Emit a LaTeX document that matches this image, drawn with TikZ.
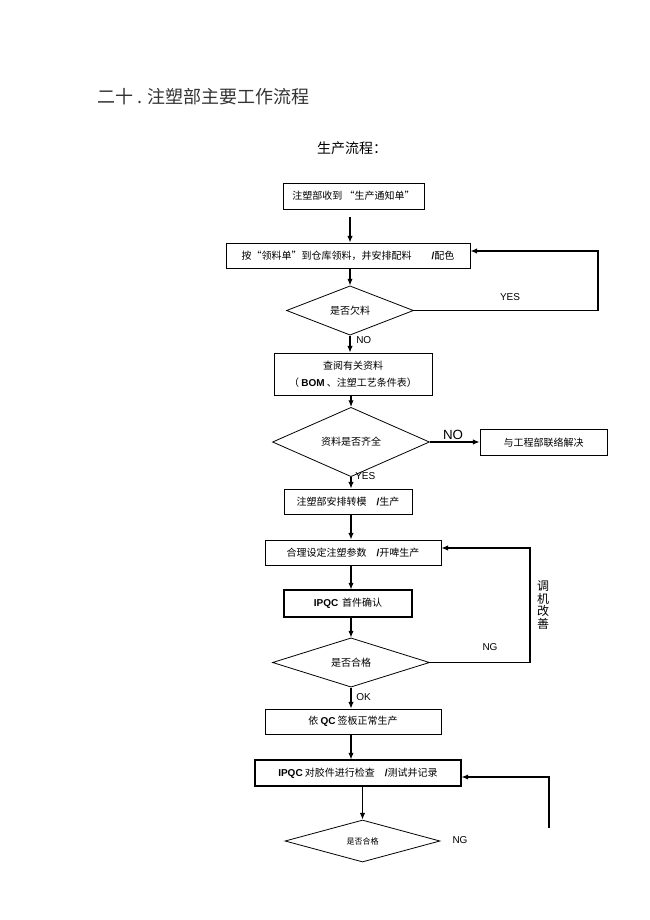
\documentclass[tikz,border=0pt]{standalone}
\usepackage{fontspec}
\newfontfamily\cjk{Noto Sans CJK SC}
\newfontfamily\arial{Liberation Sans}
\usetikzlibrary{shapes.geometric,arrows.meta}
\tikzset{
  box/.style={draw, line width=0.6pt, inner sep=0pt, font=\cjk\fontsize{7.5}{9}\selectfont},
  heavybox/.style={box, line width=0.8pt},
  decide/.style={draw, diamond, line width=0.6pt, inner sep=0pt, font=\cjk\fontsize{7.5}{9}\selectfont},
  arr/.style={-{Latex[length=5pt,width=4pt]}, line width=0.8pt},
  tag/.style={inner sep=0pt, font=\arial\fontsize{7.5}{9}\selectfont},
}
\newcommand{\lat}[1]{{\arial\bfseries #1}}
\begin{document}
\begin{tikzpicture}[x=0.75pt,y=-0.75pt]
\useasboundingbox (0,0) rectangle (649,920);

\node[anchor=west, inner sep=0pt, text=black!80, font=\cjk\fontsize{13.5}{15}\selectfont] (title) at (97,97) {二十 . 注塑部主要工作流程};
\node[inner sep=0pt, font=\cjk\fontsize{10.5}{12}\selectfont] (subtitle) at (352,148) {生产流程：};

\node[box, minimum width=105.75pt, minimum height=19.5pt] (notice) at (353.5,196) {注塑部收到 “生产通知单”};
\node[box, minimum width=183pt, minimum height=18.75pt] (issue) at (348,255.5) {按“领料单”到仓库领料，并安排配料\quad\quad\lat{/}配色};
\node[decide, minimum width=95.25pt, minimum height=24.75pt] (short) at (350,310.5) {是否欠料};
\node[box, align=center, minimum width=118.5pt, minimum height=31.5pt] (lookup) at (353,374) {查阅有关资料\\[3.5pt]（ \lat{BOM} 、注塑工艺条件表）};
\node[decide, minimum width=117.75pt, minimum height=31.5pt] (complete) at (351,442) {资料是否齐全};
\node[box, minimum width=95.25pt, minimum height=19.5pt, text depth=-3pt] (engineer) at (543.5,442) {与工程部联络解决};
\node[box, minimum width=96pt, minimum height=18.75pt] (mould) at (348,501.5) {注塑部安排转模\quad\lat{/}生产};
\node[box, minimum width=132pt, minimum height=18.75pt] (setup) at (353,552.5) {合理设定注塑参数\quad\lat{/}开啤生产};
\node[heavybox, minimum width=96pt, minimum height=20.25pt] (firstpc) at (348,603.5) {\lat{IPQC}\, 首件确认};
\node[decide, minimum width=117.75pt, minimum height=30.75pt] (okfirst) at (351,662.5) {是否合格};
\node[box, minimum width=132pt, minimum height=18.75pt] (produce) at (353,721.5) {依 \lat{QC} 签板正常生产};
\node[heavybox, minimum width=154.5pt, minimum height=19.5pt] (inspect) at (358,773) {\lat{IPQC} 对胶件进行检查\quad\lat{/}测试并记录};
\node[decide, minimum width=116.25pt, minimum height=31.5pt, font=\cjk\fontsize{6}{7}\selectfont] (pass) at (362.5,841) {是否合格};

\node[tag] (yes1) at (510,297) {YES};
\node[tag, anchor=west] (no1) at (356,340) {NO};
\node[tag, font=\arial\fontsize{10}{12}\selectfont] (no2) at (453,435) {NO};
\node[tag, anchor=west] (yes2) at (355,476) {YES};
\node[tag] (ng1) at (490,647) {NG};
\node[tag, anchor=west] (ok) at (356,697) {OK};
\node[tag] (ng2) at (460,840) {NG};
\node[inner sep=0pt, align=center, font=\cjk\fontsize{9}{9.6}\selectfont] (adjust) at (543,605) {调\\机\\改\\善};

\coordinate (yescorner) at (598,251);
\coordinate (ngcorner) at (530,548);
\coordinate (ngfoot) at (549,828);
\coordinate (ngtop) at (549,777);

\draw[arr, shorten <=6pt] (notice.south -| short.north) -- (short.north |- issue.north);
\draw[arr] (short.north |- issue.south) -- (short.north);
\draw[arr] (short.south) -- (short.south |- lookup.north);
\draw[arr] (short.east) -| (yescorner) -- (issue.east |- yescorner);
\draw[arr] (complete.north |- lookup.south) -- (complete.north);
\draw[arr] (complete.east) -- (engineer.west);
\draw[arr] (complete.south) -- (complete.south |- mould.north);
\draw[arr] (complete.south |- mould.south) -- (complete.south |- setup.north);
\draw[arr] (complete.south |- setup.south) -- (complete.south |- firstpc.north);
\draw[arr] (okfirst.north |- firstpc.south) -- (okfirst.north);
\draw[arr] (okfirst.east) -| (ngcorner) -- (setup.east |- ngcorner);
\draw[arr] (okfirst.south) -- (okfirst.south |- produce.north);
\draw[arr] (okfirst.south |- produce.south) -- (okfirst.south |- inspect.north);
\draw[arr] (pass.north |- inspect.south) -- (pass.north);
\draw[arr] (ngfoot) -- (ngtop) -- (inspect.east |- ngtop);
\end{tikzpicture}
\end{document}
